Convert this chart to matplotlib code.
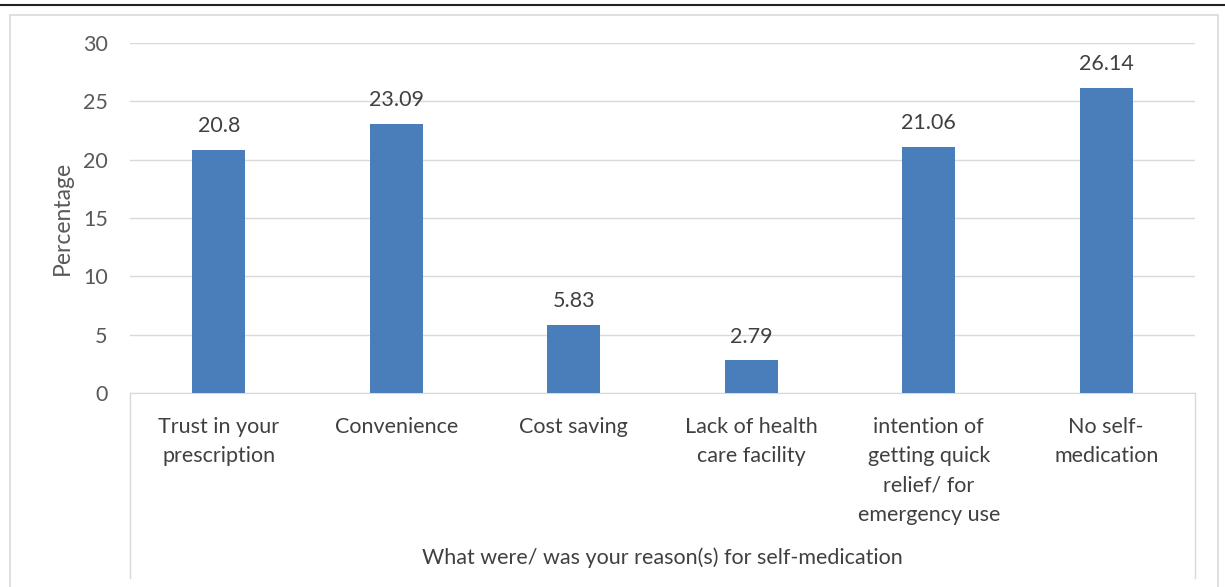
import matplotlib.pyplot as plt
from matplotlib.lines import Line2D
from matplotlib.patches import Rectangle

# data
reasons = ['Trust in your\nprescription', 'Convenience', 'Cost saving',
           'Lack of health\ncare facility',
           'intention of\ngetting quick\nrelief/ for\nemergency use',
           'No self-\nmedication']
percent = [20.8, 23.09, 5.83, 2.79, 21.06, 26.14]
pct_labels = ['20.8', '23.09', '5.83', '2.79', '21.06', '26.14']
yticks = [0, 5, 10, 15, 20, 25, 30]

plt.rcParams['font.family'] = ['Lato', 'DejaVu Sans']
FS = 15.5

W, H = 1225, 587
fig = plt.figure(figsize=(W / 100, H / 100), dpi=100)
ax = fig.add_axes([130 / W, (H - 393) / H, 1065 / W, 350 / H])

x = list(range(len(reasons)))
bars = ax.bar(x, percent, width=0.30, color='#4a7ebb', zorder=3)
ax.set_xlim(-0.5, len(reasons) - 0.5)
ax.set_ylim(0, 30)
ax.set_yticks(yticks)
ax.set_yticklabels([str(t) for t in yticks], fontsize=FS, color='#595959')
ax.yaxis.grid(True, color='#d9d9d9', linewidth=1)
ax.set_axisbelow(True)
ax.tick_params(axis='y', length=0, pad=16)
ax.tick_params(axis='x', length=0, pad=17)
ax.set_xticks(x)
ax.set_xticklabels(reasons, fontsize=FS, color='#404040', linespacing=1.6, va='top')

for s in ['left', 'right', 'top']:
    ax.spines[s].set_visible(False)
ax.spines['bottom'].set_color('#d9d9d9')

for b, lab in zip(bars, pct_labels):
    ax.annotate(lab, (b.get_x() + b.get_width() / 2, b.get_height()),
                xytext=(0, 10), textcoords='offset points', ha='center',
                va='bottom', fontsize=FS, color='#404040')

ax.set_ylabel('Percentage', fontsize=16.5, color='#595959', labelpad=7)
fig.text(662.5 / W, (H - 558) / H, 'What were/ was your reason(s) for self-medication',
         ha='center', va='center', fontsize=FS, color='#404040')

# category box lines below the axis
for xp in [130, 1195]:
    fig.add_artist(Line2D([xp / W, xp / W], [(H - 393) / H, (H - 578) / H],
                          color='#d9d9d9', linewidth=1))

# outer chart frame and the top rule
fig.add_artist(Rectangle((10 / W, -0.01), 1208 / W, (H - 15) / H + 0.01,
                         fill=False, edgecolor='#d9d9d9', linewidth=1.2))
fig.add_artist(Line2D([0, 1], [(H - 5) / H, (H - 5) / H], color='#222222', linewidth=1.5))

fig.savefig('out.png', dpi=100)
